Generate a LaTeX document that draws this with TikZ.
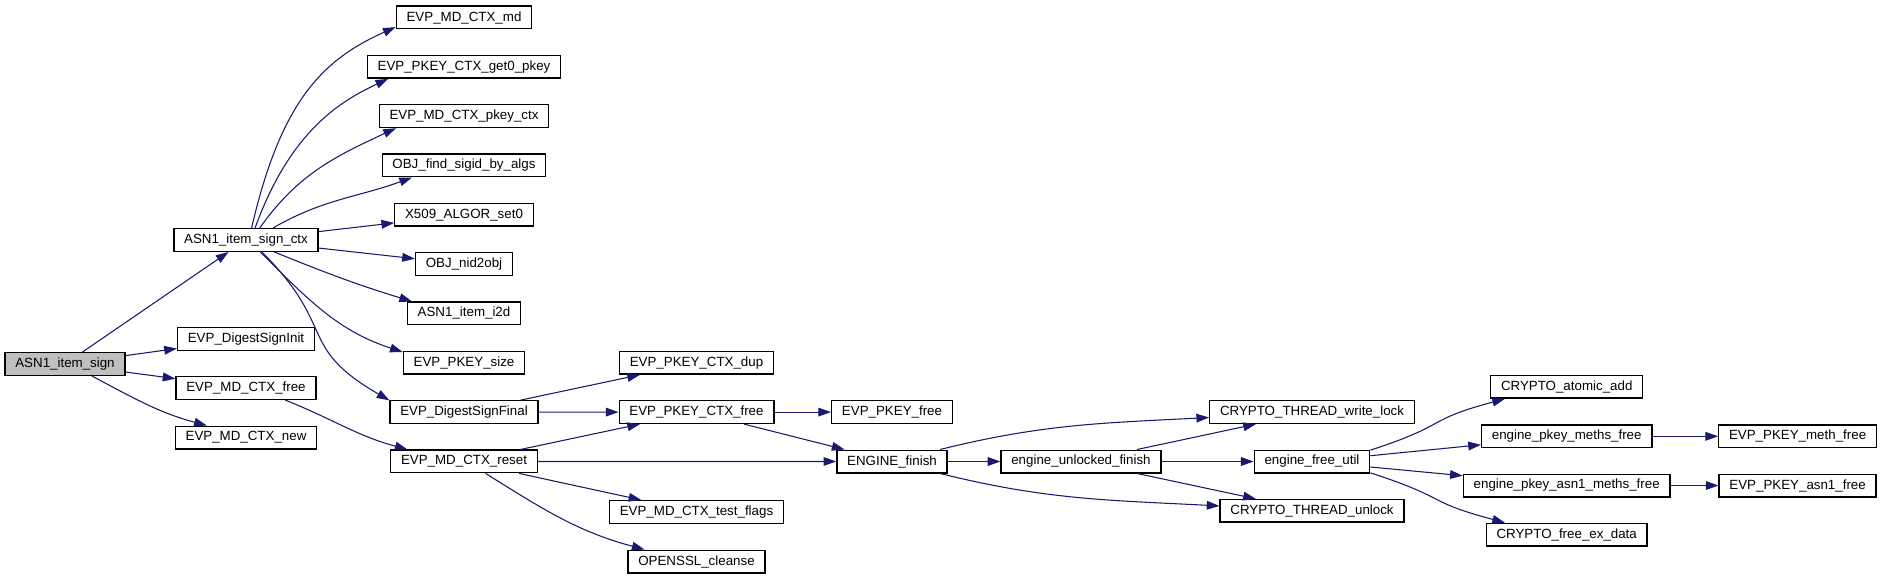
\documentclass[tikz,border=0pt]{standalone}
\usepackage{fontspec}
\setmainfont{Liberation Sans}
\usetikzlibrary{arrows.meta}
\definecolor{callblue}{HTML}{191970}
\definecolor{rootgrey}{HTML}{BFBFBF}

\begin{document}
\begin{tikzpicture}[x=0.75pt,y=0.75pt,
    fn/.style={draw=black,line width=1pt,fill=white,font=\fontsize{10}{12}\selectfont,
               inner xsep=7.7pt,inner ysep=0pt,minimum height=17pt},
    call/.style={draw=callblue,line width=0.8pt,-{Triangle[length=9.5pt,width=6.5pt]}}]
  \useasboundingbox (0,0) rectangle (1882,-581);

  % caller and its direct callees
  \node[fn,fill=rootgrey] (sign) at (65,-364) {ASN1\_item\_sign};
  \node[fn] (signctx) at (246,-240) {ASN1\_item\_sign\_ctx};
  \node[fn] (dsinit)  at (246,-339) {EVP\_DigestSignInit};
  \node[fn] (mdfree)  at (246,-388) {EVP\_MD\_CTX\_free};
  \node[fn] (mdnew)   at (246,-437.5) {EVP\_MD\_CTX\_new};

  % third column
  \foreach \n/\t [count=\k from 0] in {md/EVP\_MD\_CTX\_md,get0/EVP\_PKEY\_CTX\_get0\_pkey,
      pkeyctx/EVP\_MD\_CTX\_pkey\_ctx,findsig/OBJ\_find\_sigid\_by\_algs,algor/X509\_ALGOR\_set0,
      nidobj/OBJ\_nid2obj,itemid/ASN1\_item\_i2d,pkeysize/EVP\_PKEY\_size,
      dsfinal/EVP\_DigestSignFinal,mdreset/EVP\_MD\_CTX\_reset}
    \node[fn] (\n) at (464,{-17.5-49.33*\k}) {\t};

  \node[fn] (ctxdup)    at (696.5,-362.8) {EVP\_PKEY\_CTX\_dup};
  \node[fn] (ctxfree)   at (696.5,-412.1) {EVP\_PKEY\_CTX\_free};
  \node[fn] (testflags) at (696.5,-512) {EVP\_MD\_CTX\_test\_flags};
  \node[fn] (cleanse)   at (696.5,-561.5) {OPENSSL\_cleanse};

  \node[fn] (pkeyfree)  at (892,-412.1) {EVP\_PKEY\_free};
  \node[fn] (engfinish) at (892,-461.5) {ENGINE\_finish};
  \node[fn] (unlocked)  at (1081,-461.5) {engine\_unlocked\_finish};

  \node[fn] (writelock) at (1312,-412.1) {CRYPTO\_THREAD\_write\_lock};
  \node[fn] (freeutil)  at (1312,-461.5) {engine\_free\_util};
  \node[fn] (unlock)    at (1312,-510.8) {CRYPTO\_THREAD\_unlock};

  \node[fn] (atomic)    at (1566.7,-386.8) {CRYPTO\_atomic\_add};
  \node[fn] (methsfree) at (1566.7,-436.3) {engine\_pkey\_meths\_free};
  \node[fn] (asnmeths)  at (1566.7,-485.5) {engine\_pkey\_asn1\_meths\_free};
  \node[fn] (exdata)    at (1566.7,-534.7) {CRYPTO\_free\_ex\_data};
  \node[fn] (methfree)  at (1797.6,-436.3) {EVP\_PKEY\_meth\_free};
  \node[fn] (asnfree)   at (1797.6,-485.5) {EVP\_PKEY\_asn1\_free};

  % calls
  \draw[call] (sign) -- (signctx);
  \draw[call] (sign) -- (dsinit);
  \draw[call] (sign) -- (mdfree);
  \draw[call] (sign.-24) to[out=-28,in=165] (mdnew.163);

  \draw[call] (signctx.65) to[out=77,in=204,out looseness=1.34,in looseness=0.83] (md.188);
  \draw[call] (signctx.53) to[out=70,in=205,out looseness=1.3,in looseness=0.7] (get0.189);
  \draw[call] (signctx.41) to[out=55,in=205] (pkeyctx.190);
  \draw[call] (signctx.24) to[out=30,in=200] (findsig.193);
  \draw[call] (signctx) -- (algor);
  \draw[call] (signctx) -- (nidobj);
  \draw[call] (signctx.-23) to[out=-22,in=163] (itemid.167);
  \draw[call] (signctx.-40) to[out=-45,in=162] (pkeysize.170);
  \draw[call] (signctx.-37) to[out=-45,in=150,looseness=1.4] (dsfinal.171);

  \draw[call] (mdfree.-17) to[out=-22,in=165] (mdreset.168);

  \draw[call] (dsfinal) -- (ctxdup);
  \draw[call] (dsfinal) -- (ctxfree);
  \draw[call] (mdreset) -- (ctxfree);
  \draw[call] (mdreset) -- (engfinish);
  \draw[call] (mdreset) -- (testflags);
  \draw[call] (mdreset.-29) to[out=-32,in=165] (cleanse.167);

  \draw[call] (ctxfree) -- (pkeyfree);
  \draw[call] (ctxfree) -- (engfinish);

  \draw[call] (engfinish.14) to[out=14,in=183] (writelock.183);
  \draw[call] (engfinish) -- (unlocked);
  \draw[call] (engfinish.-14) to[out=-14,in=177] (unlock.177);

  \draw[call] (unlocked) -- (writelock);
  \draw[call] (unlocked) -- (freeutil);
  \draw[call] (unlocked) -- (unlock);

  \draw[call] (freeutil.11) to[out=18,in=195,looseness=1.5] (atomic.191);
  \draw[call] (freeutil) -- (methsfree);
  \draw[call] (freeutil) -- (asnmeths);
  \draw[call] (freeutil.-11) to[out=-18,in=165,looseness=1.5] (exdata.169);
  \draw[call] (methsfree) -- (methfree);
  \draw[call] (asnmeths) -- (asnfree);
\end{tikzpicture}
\end{document}
